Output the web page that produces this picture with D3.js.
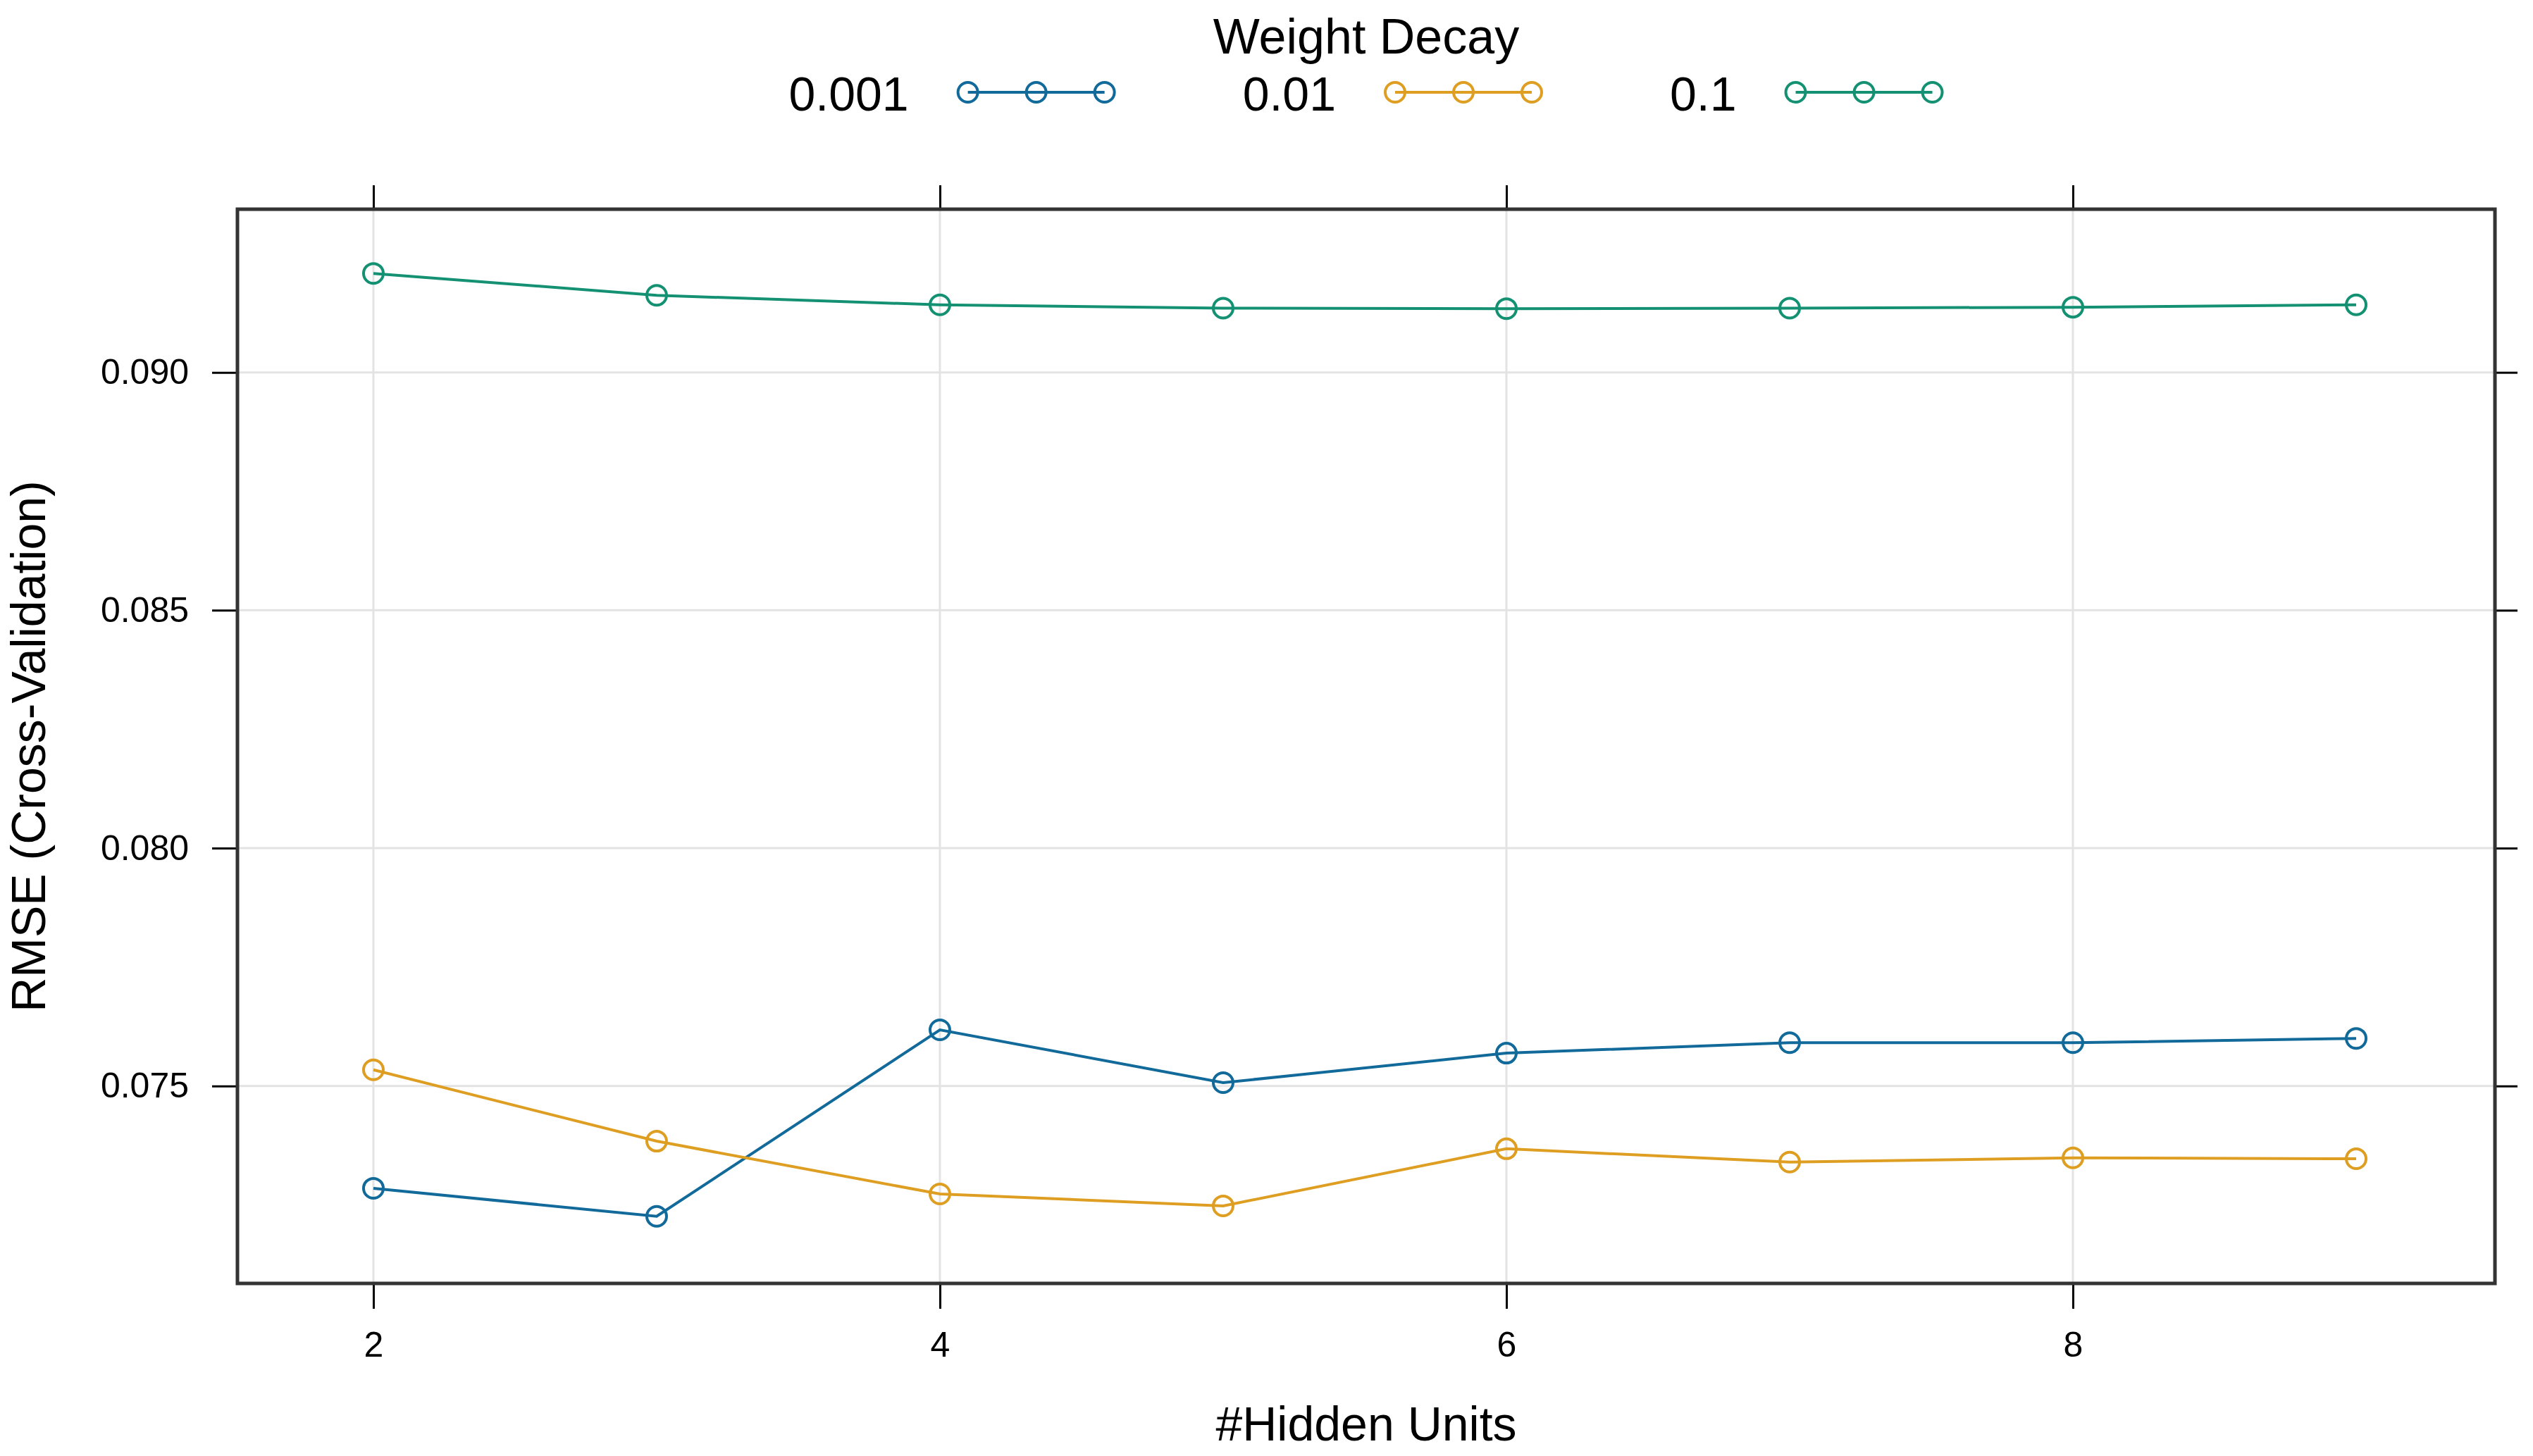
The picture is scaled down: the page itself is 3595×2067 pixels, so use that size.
<!DOCTYPE html>
<html>
<head>
<meta charset="utf-8">
<script src="https://cdn.jsdelivr.net/npm/d3@7"></script>
<style>
  body { margin: 0; background: #ffffff; }
  text { font-family: "Liberation Sans", Arial, Helvetica, sans-serif; fill: #000; }
</style>
</head>
<body>
<div id="chart"></div>
<script>
// values
var hiddenUnits = [2, 3, 4, 5, 6, 7, 8, 9];
var decayLabels = ["0.001", "0.01", "0.1"];
var rmseDecay001 = [0.07285, 0.07226, 0.07618, 0.07507, 0.07569, 0.07591, 0.07591, 0.07600];
var rmseDecay01 = [0.07534, 0.07384, 0.07273, 0.07248, 0.07368, 0.07340, 0.07349, 0.07347];
var rmseDecay1 = [0.09208, 0.09162, 0.09142, 0.09135, 0.09134, 0.09135, 0.09137, 0.09142];
var xTicks = [2, 4, 6, 8];
var yTicks = [0.075, 0.080, 0.085, 0.090];

var colors = ["#126A9A", "#DE9E22", "#139172"];
var seriesValues = [rmseDecay001, rmseDecay01, rmseDecay1];

var W = 3595, H = 2067;
var margin = {top: 297, right: 54, bottom: 245, left: 337},
    width = W - margin.left - margin.right,
    height = H - margin.top - margin.bottom;

var svg = d3.select("#chart")
    .append("svg")
    .attr("width", W)
    .attr("height", H);

var g = svg.append("g")
    .attr("transform", "translate(" + margin.left + "," + margin.top + ")");

var x = d3.scaleLinear()
    .domain([1.52, 9.49])
    .range([0, width]);

var y = d3.scaleLinear()
    .domain([0.07085, 0.09343])
    .range([height, 0]);

// grid
g.selectAll(".vgrid")
    .data(xTicks)
    .enter()
    .append("line")
    .attr("x1", d => x(d)).attr("x2", d => x(d))
    .attr("y1", 0).attr("y2", height)
    .attr("stroke", "#e3e3e3")
    .attr("stroke-width", 3);

g.selectAll(".hgrid")
    .data(yTicks)
    .enter()
    .append("line")
    .attr("x1", 0).attr("x2", width)
    .attr("y1", d => y(d)).attr("y2", d => y(d))
    .attr("stroke", "#e3e3e3")
    .attr("stroke-width", 3);

// axes (ticks outside the box on all four sides)
function styleAxis(sel) {
    sel.select(".domain").remove();
    sel.selectAll("line").attr("stroke", "#000").attr("stroke-width", 3);
    sel.selectAll("text").style("font-size", "50px").attr("fill", "#000");
}

g.append("g")
    .attr("transform", "translate(0," + height + ")")
    .call(d3.axisBottom(x).tickValues(xTicks).tickSize(36).tickPadding(32).tickFormat(d3.format("d")))
    .call(styleAxis);

g.append("g")
    .call(d3.axisTop(x).tickValues(xTicks).tickSize(34).tickFormat(""))
    .call(styleAxis);

g.append("g")
    .call(d3.axisLeft(y).tickValues(yTicks).tickSize(36).tickPadding(33).tickFormat(d3.format(".3f")))
    .call(styleAxis);

g.append("g")
    .attr("transform", "translate(" + width + ",0)")
    .call(d3.axisRight(y).tickValues(yTicks).tickSize(32).tickFormat(""))
    .call(styleAxis);

// series
var line = d3.line()
    .x((d, i) => x(hiddenUnits[i]))
    .y(d => y(d));

seriesValues.forEach(function (vals, k) {
    g.append("path")
        .datum(vals)
        .attr("d", line)
        .attr("fill", "none")
        .attr("stroke", colors[k])
        .attr("stroke-width", 4);

    g.selectAll(".pt" + k)
        .data(vals)
        .enter()
        .append("circle")
        .attr("cx", (d, i) => x(hiddenUnits[i]))
        .attr("cy", d => y(d))
        .attr("r", 14)
        .attr("fill", "none")
        .attr("stroke", colors[k])
        .attr("stroke-width", 4);
});

// plot box
g.append("rect")
    .attr("x", 0).attr("y", 0)
    .attr("width", width).attr("height", height)
    .attr("fill", "none")
    .attr("stroke", "#333")
    .attr("stroke-width", 5);

// axis titles
svg.append("text")
    .attr("x", margin.left + width / 2)
    .attr("y", 2045)
    .attr("text-anchor", "middle")
    .style("font-size", "68px")
    .text("#Hidden Units");

svg.append("text")
    .attr("transform", "translate(64," + (margin.top + height / 2) + ")rotate(-90)")
    .attr("text-anchor", "middle")
    .style("font-size", "68px")
    .text("RMSE (Cross-Validation)");

// legend on top
var cx = margin.left + width / 2;
svg.append("text")
    .attr("x", cx)
    .attr("y", 76)
    .attr("text-anchor", "middle")
    .style("font-size", "70px")
    .text("Weight Decay");

var legend = svg.append("g");
var symGap = 84, symStep = 97, entryGap = 196, legY = 131;
var pos = 0;
decayLabels.forEach(function (lab, k) {
    var t = legend.append("text")
        .attr("x", pos)
        .attr("y", legY + 26)
        .style("font-size", "68px")
        .text(lab);
    var tw = t.node().getComputedTextLength();
    var s0 = pos + tw + symGap;
    legend.append("line")
        .attr("x1", s0).attr("x2", s0 + 2 * symStep)
        .attr("y1", legY).attr("y2", legY)
        .attr("stroke", colors[k])
        .attr("stroke-width", 4);
    [0, 1, 2].forEach(function (j) {
        legend.append("circle")
            .attr("cx", s0 + j * symStep)
            .attr("cy", legY)
            .attr("r", 14)
            .attr("fill", "none")
            .attr("stroke", colors[k])
            .attr("stroke-width", 4);
    });
    pos = s0 + 2 * symStep + entryGap;
});
var legW = pos - entryGap + 16;
legend.attr("transform", "translate(" + (cx - legW / 2) + ",0)");
</script>
</body>
</html>
